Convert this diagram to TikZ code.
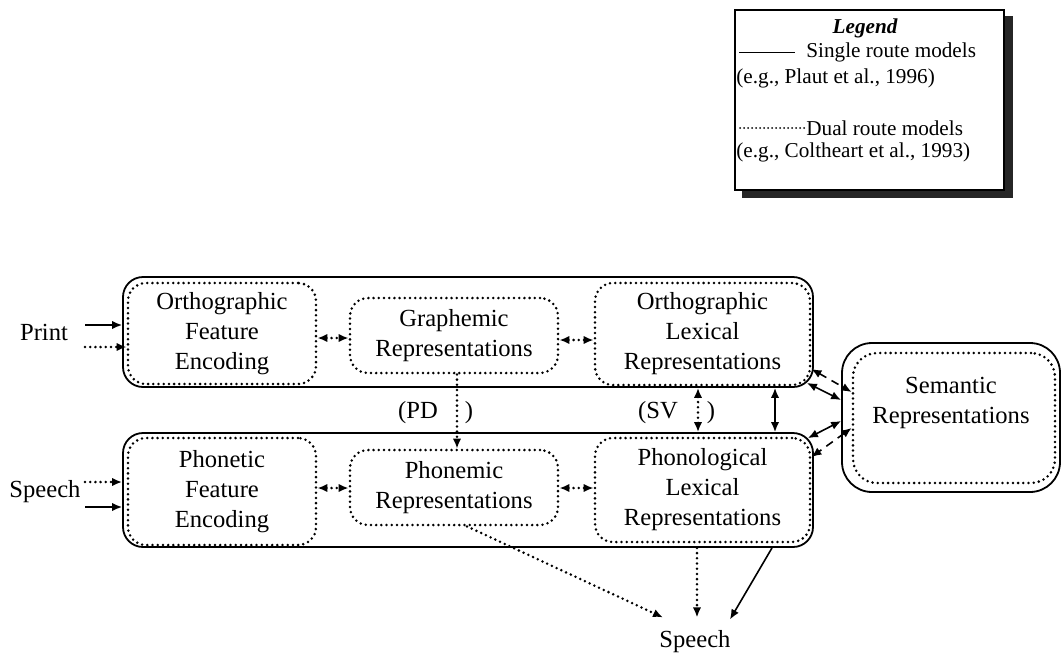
\documentclass[tikz,border=0pt]{standalone}
\usepackage{fontspec}
\setmainfont{Liberation Serif}
\usetikzlibrary{arrows.meta,calc,backgrounds}
\begin{document}
\begin{tikzpicture}[x=0.5pt,y=-0.5pt,
  font=\fontsize{12.3}{15}\selectfont,
  outerbox/.style={draw,line width=0.9pt,rounded corners=10pt,inner sep=0pt},
  dotbox/.style={draw,line width=1.4pt,line cap=round,dash pattern=on 0pt off 2.6pt,rounded corners=9pt,align=center,inner sep=0pt},
  dotl/.style={line width=1.4pt,line cap=round,dash pattern=on 0pt off 2.6pt},
  soll/.style={line width=0.8pt},
  dashl/.style={line width=0.8pt,dash pattern=on 4pt off 3pt},
  tip/.style={-{Latex[length=5pt,width=4.2pt]}},
  tips/.style={{Latex[length=5pt,width=4.2pt]}-{Latex[length=5pt,width=4.2pt]}},
  lbl/.style={inner sep=0pt},
  legfont/.style={font=\fontsize{10.6}{12.6}\selectfont}
]
\useasboundingbox (0,0) rectangle (1064,654);

% Legend
\node[draw,line width=0.6pt,fill=white,minimum width=134.5pt,minimum height=90pt,inner sep=0pt] (legend) at (869.5,100) {};
\node[lbl,font=\fontsize{10.6}{12.6}\bfseries\itshape] (legtitle) at (865,28) {Legend};
\coordinate (l1a) at (739,52);
\coordinate (l1b) at (795,52);
\draw[line width=0.5pt] (l1a) -- (l1b);
\node[lbl,legfont,anchor=west] (l1t) at (806,52) {Single route models};
\node[lbl,legfont,anchor=west] (l1c) at (736,78) {(e.g., Plaut et al., 1996)};
\coordinate (l2a) at (740,128);
\coordinate (l2b) at (804,128);
\draw[line width=1pt,line cap=round,dash pattern=on 0pt off 2pt] (l2a) -- (l2b);
\node[lbl,legfont,anchor=west] (l2t) at (806,128) {Dual route models};
\node[lbl,legfont,anchor=west] (l2c) at (736,152) {(e.g., Coltheart et al., 1993)};

% Outer boxes
\node[outerbox,minimum width=345pt,minimum height=55pt] (orth) at (468,332) {};
\node[outerbox,minimum width=345pt,minimum height=57pt] (phon) at (468,490) {};
\node[outerbox,rounded corners=15pt,minimum width=109pt,minimum height=74.5pt] (sem) at (951,417.5) {};

% Inner boxes
\node[dotbox,minimum width=94pt,minimum height=50.5pt] (ofe) at (222,333.5) {Orthographic\\Feature\\Encoding};
\node[dotbox,minimum width=104pt,minimum height=37.5pt] (gr) at (454,335.5) {Graphemic\\Representations};
\node[dotbox,minimum width=107.5pt,minimum height=51pt] (olr) at (702.5,334) {Orthographic\\Lexical\\Representations};
\node[dotbox,minimum width=94pt,minimum height=53.5pt] (pfe) at (222,491.5) {Phonetic\\Feature\\Encoding};
\node[dotbox,minimum width=104pt,minimum height=37.5pt] (pr) at (454,487.5) {Phonemic\\Representations};
\node[dotbox,minimum width=107.5pt,minimum height=52pt] (plr) at (702.5,490) {Phonological\\Lexical\\Representations};
\node[dotbox,rounded corners=12pt,minimum width=101pt,minimum height=65pt] (sin) at (954,418) {};
\node[lbl,align=center] (semtxt) at (951,403) {Semantic\\Representations};

% Inputs
\node[lbl] (print) at (44,332) {Print};
\node[lbl] (speechin) at (45,492) {Speech};
\coordinate (pa1) at (85,325);
\coordinate (pa2) at (85,347);
\coordinate (sa1) at (85,482);
\coordinate (sa2) at (85,507);
\draw[soll,tip] (pa1) -- (orth.west |- pa1);
\draw[dotl,tip] (pa2) -- (ofe.west |- pa2);
\draw[dotl,tip] (sa1) -- (phon.west |- sa1);
\draw[soll,tip] (sa2) -- (phon.west |- sa2);

% Horizontal links
\draw[dotl,tips] (ofe.east |- 0,338) -- (gr.west |- 0,338);
\draw[dotl,tips] (gr.east |- 0,340) -- (olr.west |- 0,340);
\draw[dotl,tips] (pfe.east |- 0,488) -- (pr.west |- 0,488);
\draw[dotl,tips] (pr.east |- 0,488) -- (plr.west |- 0,488);

% PD and SV
\draw[dotl,tip] (gr.south -| 457,0) -- (pr.north -| 457,0);
\node[lbl] (pdl) at (418,413) {(PD};
\node[lbl] (pdr) at (469,413) {)};
\node[lbl] (svl) at (658,413) {(SV};
\node[lbl] (svr) at (711,413) {)};
\draw[dotl,tips] (orth.south -| 698,0) -- (phon.north -| 698,0);
\draw[soll,tips] (orth.south -| 775,0) -- (phon.north -| 775,0);

% Semantic links
\draw[dashl,tips] (olr.east |- 0,369) -- (sin.west |- 0,392);
\draw[soll,tips] ([shift={(-7,-5)}]orth.south east) -- (sem.west |- 0,400);
\draw[soll,tips] (sem.west |- 0,421) -- ([shift={(-6,6)}]phon.north east);
\draw[dashl,tips] (sin.west |- 0,428) -- (plr.east |- 0,457);

% Speech output
\node[lbl] (speechout) at (695,642) {Speech};
\draw[dotl,tip] (pr.south -| 467,0) -- ($(speechout.north)+(-32,-13)$);
\draw[dotl,tip] (phon.south -| 697,0) -- ($(speechout.north)+(2,-13)$);
\draw[soll,tip] (phon.south -| 772,0) -- ($(speechout.north)+(35,-11)$);

\begin{scope}[on background layer]
\fill[white] (0,0) rectangle (1064,654);
\fill[black!85] ($(legend.south west)+(8,7)$) rectangle ($(legend.north east)+(8,7)$);
\end{scope}
\end{tikzpicture}
\end{document}
